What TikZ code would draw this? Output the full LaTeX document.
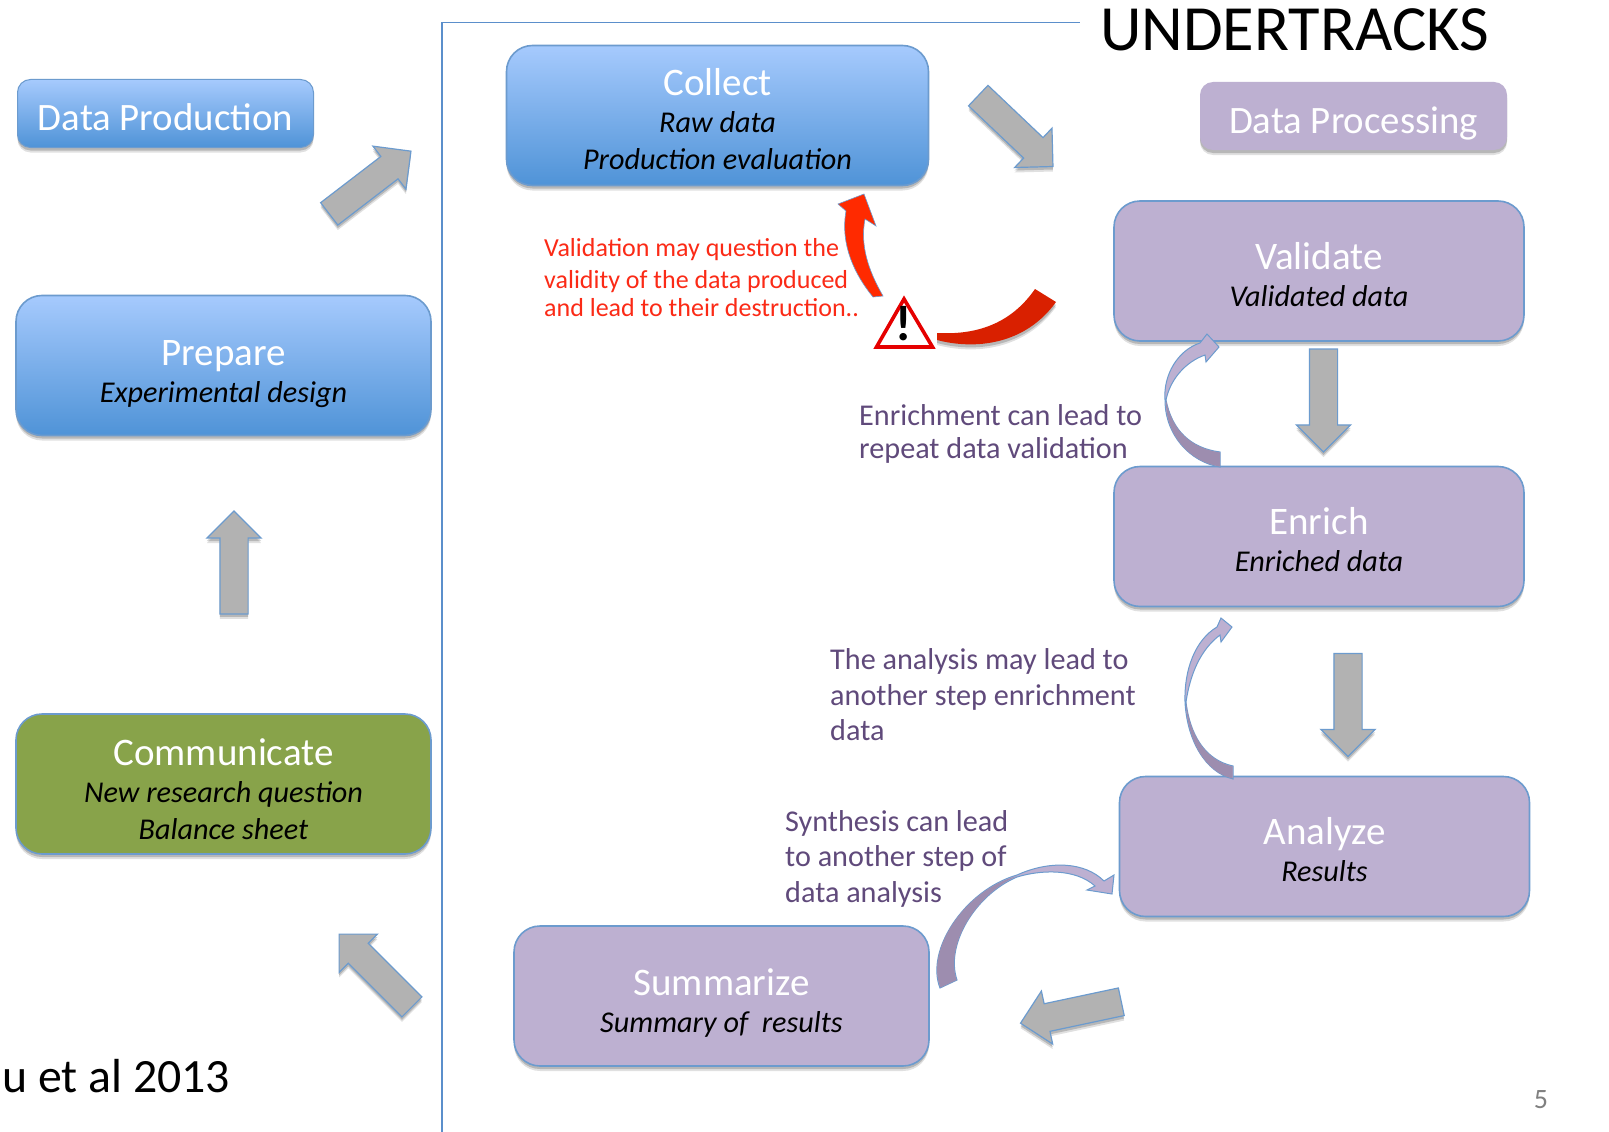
\documentclass[tikz,border=0pt]{standalone}
\usepackage{fontspec}
\setmainfont{Carlito}
\usetikzlibrary{shapes.arrows}
\usetikzlibrary{shadows}
\definecolor{edgeblue}{HTML}{6C9BCE}
\definecolor{linkblue}{HTML}{5B8FCB}
\definecolor{bluetop}{HTML}{A6CAFD}
\definecolor{bluebot}{HTML}{4F93D7}
\definecolor{purplefill}{HTML}{BDB0D1}
\definecolor{purpledark}{HTML}{9D8DAF}
\definecolor{purpletext}{HTML}{604A7B}
\definecolor{greenfill}{HTML}{88A34A}
\definecolor{arrowgray}{HTML}{B2B2B2}
\definecolor{redtext}{HTML}{FB2A16}
\definecolor{redbright}{HTML}{FF2A00}
\definecolor{reddark}{HTML}{D92000}
\newcommand{\steptitle}[2][34]{{\normalfont\fontsize{39}{39}\selectfont\color{white}\rule{0pt}{#1pt}#2}}
\tikzset{
	softshadow/.style={drop shadow={shadow xshift=0pt,shadow yshift=-5pt,opacity=.12,fill=black},drop shadow={shadow xshift=0pt,shadow yshift=-3pt,opacity=.18,fill=black}},
	stepbox/.style={draw=edgeblue,line width=1.6pt,rounded corners=26pt,minimum height=140pt,inner sep=0pt,align=center,font=\fontsize{30.2}{37}\selectfont\itshape,softshadow},
	bluebox/.style={stepbox,top color=bluetop,bottom color=bluebot},
	purplebox/.style={stepbox,fill=purplefill},
	greenbox/.style={stepbox,fill=greenfill},
	phasebox/.style={rounded corners=13pt,inner sep=0pt,minimum height=68pt,text=white,text depth=0pt,font=\fontsize{38.8}{39}\selectfont},
	grayarrow/.style={single arrow,draw=edgeblue,line width=1.2pt,fill=arrowgray,minimum height=103pt,minimum width=53pt,single arrow head extend=13pt,single arrow head indent=0pt,inner xsep=0pt,inner ysep=13.5pt,softshadow},
	curvearrow/.style={draw=edgeblue,line width=1pt,fill=purplefill},
	curvedark/.style={fill=purpledark},
	redarrow/.style={draw=edgeblue,line width=.6pt,fill=redbright},
	notetext/.style={anchor=west,inner sep=0pt,align=left,text=purpletext,font=\fontsize{30.2}{35.5}\selectfont}
}
\begin{document}
\begin{tikzpicture}[x=1pt,y=-1pt]
	\useasboundingbox (0,0) rectangle (1609,1132);
	\fill[white] (0,0) rectangle (1609,1132);
	\draw[linkblue,line width=1.8pt] (442,1132)--(442,22.5)--(1080,22.5);
	% steps
	\node[bluebox,minimum width=422pt] (collect) at (717.5,115.5) {\steptitle{Collect}\\Raw data\\Production evaluation};
	\node[bluebox,minimum width=415pt] (prepare) at (223.5,365.5) {\steptitle[42]{Prepare}\\Experimental design};
	\node[greenbox,minimum width=415pt] (communicate) at (223.5,784) {\steptitle[37]{Communicate}\\New research question\\Balance sheet};
	\node[purplebox,minimum width=410pt] (validate) at (1319,271) {\steptitle{Validate}\\Validated data};
	\node[purplebox,minimum width=410pt] (enrich) at (1319,536.5) {\steptitle{Enrich}\\Enriched data};
	\node[purplebox,minimum width=410pt] (analyze) at (1324.5,846.5) {\steptitle{Analyze}\\Results};
	\node[purplebox,minimum width=415pt] (summarize) at (721.5,996) {\steptitle[40]{Summarize}\\Summary of\ \ results};
	\node[phasebox,draw=edgeblue,line width=1pt,top color=bluetop,bottom color=bluebot,minimum width=296pt,text height=34pt,softshadow] (production) at (165.5,113.5) {Data Production};
	\node[phasebox,fill=purplefill,minimum width=307pt,text height=34pt,softshadow] (processing) at (1353.5,116) {Data Processing};
	% big arrows
	\node[grayarrow,rotate=37.5] (arrowprepare) at (364.5,186.8) {};
	\node[grayarrow,rotate=-43.5] (arrowcollect) at (1010.5,126.2) {};
	\node[grayarrow,rotate=90] (arrowcommunicate) at (234,569.5) {};
	\node[grayarrow,rotate=-90] (arrowvalidate) at (1323.5,393.5) {};
	\node[grayarrow,rotate=-90] (arrowenrich) at (1348,698) {};
	\node[grayarrow,rotate=192] (arrowanalyze) at (1077.8,1011) {};
	\node[grayarrow,rotate=135] (arrowsummarize) at (380.5,975.5) {};
	% curved arrows
	\draw[curvearrow] (1220,452)..controls (1190,448) and (1172,430)..(1166,400)..controls (1170,380) and (1185,362)..(1205,355)--(1206,362)--(1219,347)--(1207,334)--(1200,343)..controls (1178,350) and (1163,375)..(1165,400)..controls (1165,435) and (1190,462)..(1220,467)--cycle;
	\fill[curvedark] (1220,452.5)..controls (1190,448) and (1172,430)..(1166,400)..controls (1165,435) and (1190,462)..(1220,466.5)--cycle;
	\draw[curvearrow] (1233,766)..controls (1205,760) and (1190,735)..(1186,702)..controls (1190,675) and (1200,650)..(1220,635)--(1221,642)--(1232,627)--(1221,618)--(1217,627)..controls (1195,640) and (1184,670)..(1185,702)..controls (1187,740) and (1205,772)..(1233,779)--cycle;
	\fill[curvedark] (1232.5,766.5)..controls (1205,760) and (1190,735)..(1186,702)..controls (1187,740) and (1205,772)..(1232.5,778.5)--cycle;
	\draw[curvearrow] (957,980)..controls (945,945) and (975,895)..(1017,877)..controls (1040,870) and (1075,868)..(1095,886)--(1087,890)--(1112,894)--(1114,875)--(1104,881)..controls (1085,862) and (1050,860)..(1017,875)..controls (965,890) and (925,950)..(940,988)--cycle;
	\fill[curvedark] (956.5,980)..controls (945,945) and (975,895)..(1017,876)..controls (965,890) and (925,950)..(940.5,987.5)--cycle;
	% warning
	\draw[redarrow] (864,194)--(876,226)--(865,219)..controls (860,245) and (868,270)..(883,296)--(873,297)..controls (855,275) and (840,245)..(846,211)--(838,204)--cycle;
	\draw[redarrow,draw=none,fill=reddark,softshadow] (937,333)..controls (975,335) and (1010,325)..(1035,289)--(1056,302)..controls (1025,345) and (975,350)..(937,340)--cycle;
	\draw[red!90!black,line width=3.6pt,fill=white,line join=miter] (904,299)--(932.5,347)--(876.5,347)--cycle;
	\node[inner sep=0pt,font=\fontsize{50}{50}\selectfont\bfseries] (warning) at (904,324) {!};
	% notes
	\node[notetext,text=redtext,font=\fontsize{26}{30}\selectfont] (notevalidate) at (544,278) {Validation may question the\\[2pt]validity of the data produced\\[-2pt]and lead to their destruction..};
	\node[notetext,font=\fontsize{30.2}{33}\selectfont] (noteenrich) at (859,434) {Enrichment can lead to\\repeat data validation};
	\node[notetext] (noteanalyze) at (830,695) {The analysis may lead to\\another step enrichment\\data};
	\node[notetext] (notesynthesis) at (785,858.5) {Synthesis can lead\\to another step of\\data analysis};
	% outside texts
	\node[anchor=west,inner sep=0pt,font=\fontsize{64.5}{65}\selectfont] (undertracks) at (1100,30) {UNDERTRACKS};
	\node[anchor=west,inner sep=0pt,font=\fontsize{47.8}{48}\selectfont] (citation) at (2,1076) {u et al 2013};
	\node[inner sep=0pt,text=gray,font=\fontsize{28}{28}\selectfont] (pagenumber) at (1541,1100) {5};
\end{tikzpicture}
\end{document}
